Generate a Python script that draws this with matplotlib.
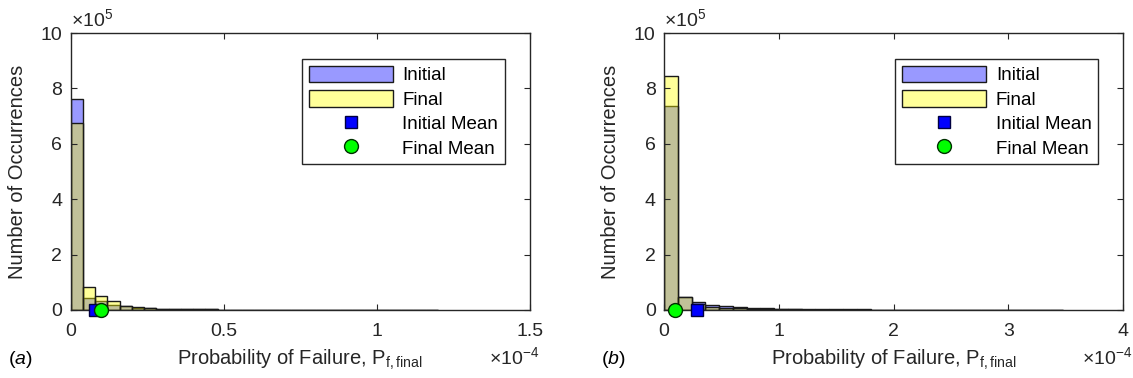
import numpy as np
import matplotlib
matplotlib.use('Agg')
import matplotlib.pyplot as plt
from matplotlib.ticker import FuncFormatter

plt.rcParams['font.family'] = ['Liberation Sans', 'DejaVu Sans']
plt.rcParams['mathtext.fontset'] = 'custom'
plt.rcParams['mathtext.rm'] = 'Liberation Sans'
plt.rcParams['mathtext.it'] = 'Liberation Sans:italic'

# panel (a): bin width 4e-6
bin_w_a = 4e-6
initial_a = [760000, 44000, 32000, 18000, 14000, 9000, 6000, 4500, 3500, 3000,
             2500, 2000, 1800, 1500, 1300, 1100, 1000, 900, 800, 700,
             600, 500, 450, 400, 350, 300, 250, 200, 150, 100]
final_a = [675000, 82000, 52000, 31000, 15000, 9500, 6000, 4500, 3500, 2800,
           2300, 1900, 1600, 1300, 1100, 900, 800, 700, 600, 500,
           400, 350, 300, 250, 200, 150, 100, 80, 60, 40]
mean_init_a = 0.8e-5
mean_final_a = 0.98e-5

# panel (b): bin width 1.2e-5
bin_w_b = 1.2e-5
initial_b = [735000, 47000, 30000, 18000, 14000, 10000, 8000, 6000, 5000, 4000,
             3500, 3000, 2500, 2200, 2000, 1800, 1600, 1400, 1200, 1000,
             900, 800, 700, 600, 500, 450, 400, 350, 300]
final_b = [845000, 48000, 20000, 12000, 9000, 6000, 4000, 3000, 2500, 2000,
           1600, 1300, 1100, 900, 800, 700, 600, 500, 400, 350,
           300, 250, 200, 150, 120, 100, 80, 60, 40]
mean_init_b = 0.285e-4
mean_final_b = 0.10e-4

panels = [
    ('a', bin_w_a, initial_a, final_a, mean_init_a, mean_final_a, 1.5e-4, [0, 0.5e-4, 1e-4, 1.5e-4]),
    ('b', bin_w_b, initial_b, final_b, mean_init_b, mean_final_b, 4e-4, [0, 1e-4, 2e-4, 3e-4, 4e-4]),
]

fig = plt.figure(figsize=(11.33, 3.78), dpi=100)
W, H = 1133, 378
AW, AH = 459, 277
dark = '#262626'

for i, (tag, bw, ini, fin, m_i, m_f, xmax, xt) in enumerate(panels):
    x0 = 70.7 if i == 0 else 664
    ax = fig.add_axes([x0 / W, (H - 310) / H, AW / W, AH / H])
    edges_i = np.arange(len(ini)) * bw
    edges_f = np.arange(len(fin)) * bw
    h1 = ax.bar(edges_i, ini, width=bw, align='edge', color=(0, 0, 1, 0.4),
                edgecolor='#1a1a1a', linewidth=1, label='Initial')
    h2 = ax.bar(edges_f, fin, width=bw, align='edge', color=(1, 1, 0, 0.4),
                edgecolor='#1a1a1a', linewidth=1, label='Final')
    h3, = ax.plot([m_i], [0], 's', color='#0000ff', markeredgecolor='#000040',
                  markersize=8, clip_on=False, label='Initial Mean', zorder=5)
    h4, = ax.plot([m_f], [0], 'o', color='#00ff00', markeredgecolor='#003000',
                  markersize=10, clip_on=False, label='Final Mean', zorder=6)

    ax.set_xlim(0, xmax)
    ax.set_ylim(0, 10e5)
    ax.set_xticks(xt)
    ax.set_yticks(np.arange(0, 11, 2) * 1e5)
    ax.xaxis.set_major_formatter(FuncFormatter(lambda v, _: f'{v / 1e-4:g}'))
    ax.yaxis.set_major_formatter(FuncFormatter(lambda v, _: f'{v / 1e5:g}'))
    ax.tick_params(direction='in', top=True, right=True, length=4,
                   labelsize=14, colors=dark, pad=6)
    ax.tick_params(axis='x', pad=9)
    for s in ax.spines.values():
        s.set_color(dark)
        s.set_linewidth(1)

    ax.set_xlabel(r'Probability of Failure, P$_{\mathregular{f,final}}$',
                  fontsize=14.5, color=dark, labelpad=6)
    ax.set_ylabel('Number of Occurrences', fontsize=14.5, color=dark)
    ax.yaxis.set_label_coords(-(70.7 - 27) / AW, 0.5)

    ax.text(0, 1.01, r'$\times$10$^{5}$', transform=ax.transAxes,
            fontsize=14, color=dark, ha='left', va='bottom')
    ax.text(1.02, -(364 - 310) / AH, r'$\times$10$^{-4}$', transform=ax.transAxes,
            fontsize=14, color=dark, ha='right', va='baseline')
    fig.text((8 if i == 0 else 601) / W, 1 - 360 / H, rf'($\mathit{{{tag}}}$)',
             fontsize=14, color='black', ha='left', va='center')

    ax.legend([h1, h2, h3, h4], ['Initial', 'Final', 'Initial Mean', 'Final Mean'],
              loc='upper right', bbox_to_anchor=(0.946, 0.906), fontsize=13.5,
              frameon=True, fancybox=False, edgecolor=dark, framealpha=1,
              handlelength=4.5, handleheight=1.0, labelspacing=0.3,
              borderpad=0.35, handletextpad=0.5, borderaxespad=0)

fig.savefig('out.png', dpi=100)
